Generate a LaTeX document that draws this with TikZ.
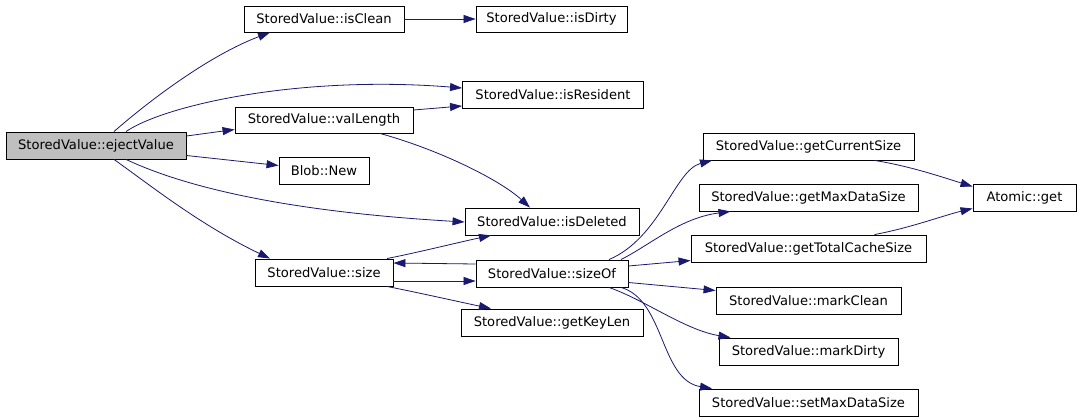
\documentclass[tikz,border=0pt]{standalone}
\usepackage{fontspec}
\setmainfont{DejaVu Sans}
\usetikzlibrary{arrows.meta,calc}
\definecolor{edgeblue}{RGB}{25,25,112}
\definecolor{boxgray}{RGB}{191,191,191}
\begin{document}
\begin{tikzpicture}[x=1pt,y=-1pt,
  fn/.style={draw=black,line width=0.9pt,fill=white,inner sep=0pt,minimum height=27pt,
    font=\fontsize{13.1}{15}\selectfont},
  root/.style={fn,fill=boxgray},
  e/.style={draw=edgeblue,line width=0.8pt,-{Triangle[length=12pt,width=8pt,fill=edgeblue]}}]
\useasboundingbox[fill=white] (0,0) rectangle (1080,417);
% nodes
\node[root,minimum width=180pt] (ev) at (96,145.5) {StoredValue::ejectValue};
\node[fn,minimum width=160pt,minimum height=26pt] (clean) at (324,19) {StoredValue::isClean};
\node[fn,minimum width=151pt,minimum height=26pt] (dirty) at (551.5,19) {StoredValue::isDirty};
\node[fn,minimum width=181pt] (res) at (553,95) {StoredValue::isResident};
\node[fn,minimum width=178pt,minimum height=26pt] (vlen) at (324,120) {StoredValue::valLength};
\node[fn,minimum width=90pt] (blob) at (324,170.5) {Blob::New};
\node[fn,minimum width=174pt] (del) at (552,221.5) {StoredValue::isDeleted};
\node[fn,minimum width=138pt] (size) at (324,272.5) {StoredValue::size};
\node[fn,minimum width=152pt] (sizeof) at (552,273.5) {StoredValue::sizeOf};
\node[fn,minimum width=182pt] (keylen) at (552,322.5) {StoredValue::getKeyLen};
\node[fn,minimum width=211pt] (gcs) at (808.5,146.5) {StoredValue::getCurrentSize};
\node[fn,minimum width=219pt] (gmds) at (808.5,197.5) {StoredValue::getMaxDataSize};
\node[fn,minimum width=235pt] (gtcs) at (808.5,248.5) {StoredValue::getTotalCacheSize};
\node[fn,minimum width=185pt] (mclean) at (808.5,300.5) {StoredValue::markClean};
\node[fn,minimum width=179pt] (mdirty) at (808.5,351.5) {StoredValue::markDirty};
\node[fn,minimum width=219pt] (smds) at (808.5,402.5) {StoredValue::setMaxDataSize};
\node[fn,minimum width=103pt] (atomic) at (1024.5,197.5) {Atomic::get};
% edges
\draw[e] ($(ev.north)+(18,0)$) .. controls (150,100) and (210,55) .. ($(clean.south)+(-54,0)$);
\draw[e] ($(ev.north)+(30,0)$) .. controls (165,105) and (300,75) .. ($(res.west)+(0,-7)$);
\draw[e] ($(ev.east)+(0,-9.5)$) -- ($(vlen.west)+(0,9.5)$);
\draw[e] ($(ev.east)+(0,10)$) -- ($(blob.west)+(0,-5)$);
\draw[e] ($(ev.south)+(30,0)$) .. controls (170,180) and (260,210) .. ($(del.west)+(0,0.5)$);
\draw[e] ($(ev.south)+(18,0)$) .. controls (150,185) and (200,225) .. ($(size.north)+(-54,0)$);
\draw[e] (clean.east) -- (dirty.west);
\draw[e] ($(vlen.east)+(0,-10)$) -- ($(res.west)+(0,11)$);
\draw[e] ($(vlen.south)+(56,0)$) .. controls (440,150) and (500,180) .. ($(del.north)+(-22,0)$);
\draw[e] ($(size.north)+(63,0)$) .. controls (420,252) and (460,242) .. ($(del.south)+(-61,0)$);
\draw[e] ($(sizeof.west)+(0,-9.5)$) -- ($(size.east)+(0,-9.5)$);
\draw[e] ($(size.east)+(0,8.5)$) -- ($(sizeof.west)+(0,7.5)$);
\draw[e] ($(size.south)+(63,0)$) .. controls (420,293) and (460,302) .. ($(keylen.north)+(-61,0)$);
\draw[e] ($(sizeof.north)+(57,0)$) .. controls (660,238) and (675,170) .. ($(gcs.south)+(-96.5,0)$);
\draw[e] ($(sizeof.north)+(69,0)$) .. controls (650,245) and (680,218) .. ($(gmds.south)+(-78,0)$);
\draw[e] ($(sizeof.east)+(0,-7.5)$) -- ($(gtcs.west)+(0,12)$);
\draw[e] ($(sizeof.east)+(0,9)$) -- ($(mclean.west)+(0,-10)$);
\draw[e] ($(sizeof.south)+(57,0)$) .. controls (645,300) and (685,330) .. ($(mdirty.north)+(-78,0)$);
\draw[e] ($(sizeof.south)+(69,0)$) .. controls (665,300) and (660,380) .. ($(smds.north)+(-96.5,0)$);
\draw[e] ($(gcs.south)+(66,0)$) .. controls (910,166) and (945,178) .. ($(atomic.west)+(0,-11)$);
\draw[e] ($(gtcs.north)+(66,0)$) .. controls (910,228) and (945,215) .. ($(atomic.west)+(0,11)$);
\end{tikzpicture}
\end{document}
